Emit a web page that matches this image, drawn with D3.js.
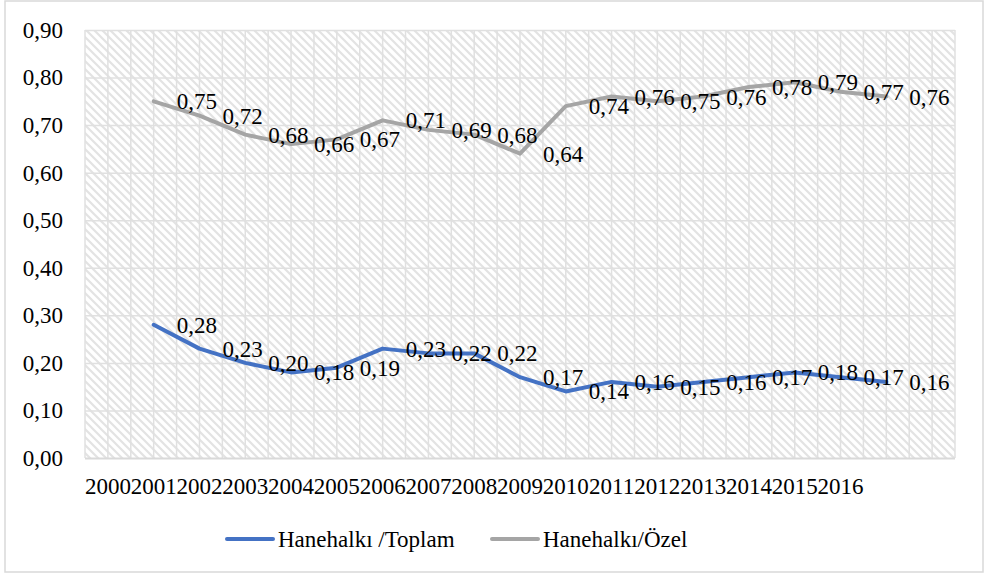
<!DOCTYPE html>
<html>
<head>
<meta charset="utf-8">
<script src="https://cdn.jsdelivr.net/npm/d3@7"></script>
<style>
  body { margin: 0; background: #fff; }
  svg text { font-family: 'Liberation Serif' !important; }
</style>
</head>
<body>
<div id="chart"></div>
<script>
// category labels on the axis (the series sit one slot to the right of them)
const years = ["2000", "2001", "2002", "2003", "2004", "2005", "2006", "2007", "2008",
  "2009", "2010", "2011", "2012", "2013", "2014", "2015", "2016"];
const toplam = [0.28, 0.23, 0.20, 0.18, 0.19, 0.23, 0.22, 0.22, 0.17, 0.14, 0.16, 0.15, 0.16, 0.17, 0.18, 0.17, 0.16];
const ozel = [0.75, 0.72, 0.68, 0.66, 0.67, 0.71, 0.69, 0.68, 0.64, 0.74, 0.76, 0.75, 0.76, 0.78, 0.79, 0.77, 0.76];
const yTicks = [0, 0.1, 0.2, 0.3, 0.4, 0.5, 0.6, 0.7, 0.8, 0.9];
const seriesNames = ["Hanehalkı /Toplam", "Hanehalkı/Özel"];
const colors = ["#4472C4", "#A5A5A5"];

const width = 990, height = 575;
const plot = { left: 85, top: 30, right: 955, bottom: 458 };
const slotCount = 19;

const fmt = v => d3.format(".2f")(v).replace(".", ",");

const svg = d3.select("#chart").append("svg")
  .attr("width", width)
  .attr("height", height);

// chart border
svg.append("rect")
  .attr("x", 5).attr("y", 1)
  .attr("width", 978).attr("height", 571)
  .attr("fill", "#fff")
  .attr("stroke", "#d9d9d9")
  .attr("stroke-width", 1.5);

// hatch pattern for the plot area
const pat = svg.append("defs").append("pattern")
  .attr("id", "hatch")
  .attr("patternUnits", "userSpaceOnUse")
  .attr("width", 8).attr("height", 8);
pat.append("rect").attr("width", 8).attr("height", 8).attr("fill", "#fff");
pat.append("path")
  .attr("d", "M-2,-2 L10,10 M-2,6 L2,10 M6,-2 L10,2")
  .attr("stroke", "#e3e3e3")
  .attr("stroke-width", 2.2);

const x = d3.scaleBand()
  .domain(d3.range(slotCount))
  .range([plot.left, plot.right])
  .paddingInner(0).paddingOuter(0);
const bw = x.bandwidth();
const cx = i => x(i) + bw / 2;

const y = d3.scaleLinear()
  .domain([0, 0.9])
  .range([plot.bottom, plot.top]);

svg.append("rect")
  .attr("x", plot.left).attr("y", plot.top)
  .attr("width", plot.right - plot.left)
  .attr("height", plot.bottom - plot.top)
  .attr("fill", "url(#hatch)");

// vertical grid: band edges and band centres
const vLines = [];
for (let i = 0; i <= slotCount * 2; i++) vLines.push(plot.left + i * bw / 2);
svg.append("g")
  .selectAll("line")
  .data(vLines)
  .join("line")
  .attr("x1", d => d).attr("x2", d => d)
  .attr("y1", plot.top).attr("y2", plot.bottom)
  .attr("stroke", "#e0e0e0")
  .attr("stroke-width", 1.5);

// horizontal grid + y labels
const yAxis = svg.append("g")
  .attr("transform", `translate(${plot.left},0)`)
  .call(d3.axisLeft(y).tickValues(yTicks).tickFormat(fmt)
    .tickSize(-(plot.right - plot.left)).tickPadding(22));
yAxis.attr("font-family", null).attr("font-size", null);
yAxis.select(".domain").remove();
yAxis.selectAll(".tick line")
  .attr("stroke", d => d === 0 ? "#d9d9d9" : "#e0e0e0")
  .attr("stroke-width", d => d === 0 ? 2 : 1.5);

// x labels
svg.append("g")
  .selectAll("text")
  .data(years)
  .join("text")
  .attr("x", (d, i) => cx(i))
  .attr("y", 486)
  .attr("dy", "0.35em")
  .attr("text-anchor", "middle")
  .text(d => d);

// series
const line = d3.line()
  .x((d, i) => cx(i + 1))
  .y(d => y(d));

[ozel, toplam].forEach(vals => {
  const c = vals === toplam ? colors[0] : colors[1];
  svg.append("path")
    .datum(vals)
    .attr("d", line)
    .attr("fill", "none")
    .attr("stroke", c)
    .attr("stroke-width", 4)
    .attr("stroke-linejoin", "round")
    .attr("stroke-linecap", "round");
});

[toplam, ozel].forEach(vals => {
  svg.append("g")
    .selectAll("text")
    .data(vals)
    .join("text")
    .attr("x", (d, i) => cx(i + 1) + 23)
    .attr("y", d => y(d))
    .attr("dy", "0.35em")
    .text(d => fmt(d));
});

// legend
const legend = svg.append("g");
const legendPos = [227, 492];
seriesNames.forEach((name, i) => {
  const lx = legendPos[i];
  legend.append("line")
    .attr("x1", lx).attr("x2", lx + 46)
    .attr("y1", 539).attr("y2", 539)
    .attr("stroke", colors[i])
    .attr("stroke-width", 4)
    .attr("stroke-linecap", "round");
  legend.append("text")
    .attr("x", lx + 51)
    .attr("y", 539)
    .attr("dy", "0.35em")
    .text(name);
});

svg.selectAll("text")
  .style("font-family", "Liberation Serif")
  .style("font-size", "23px")
  .attr("fill", "#000");
</script>
</body>
</html>
